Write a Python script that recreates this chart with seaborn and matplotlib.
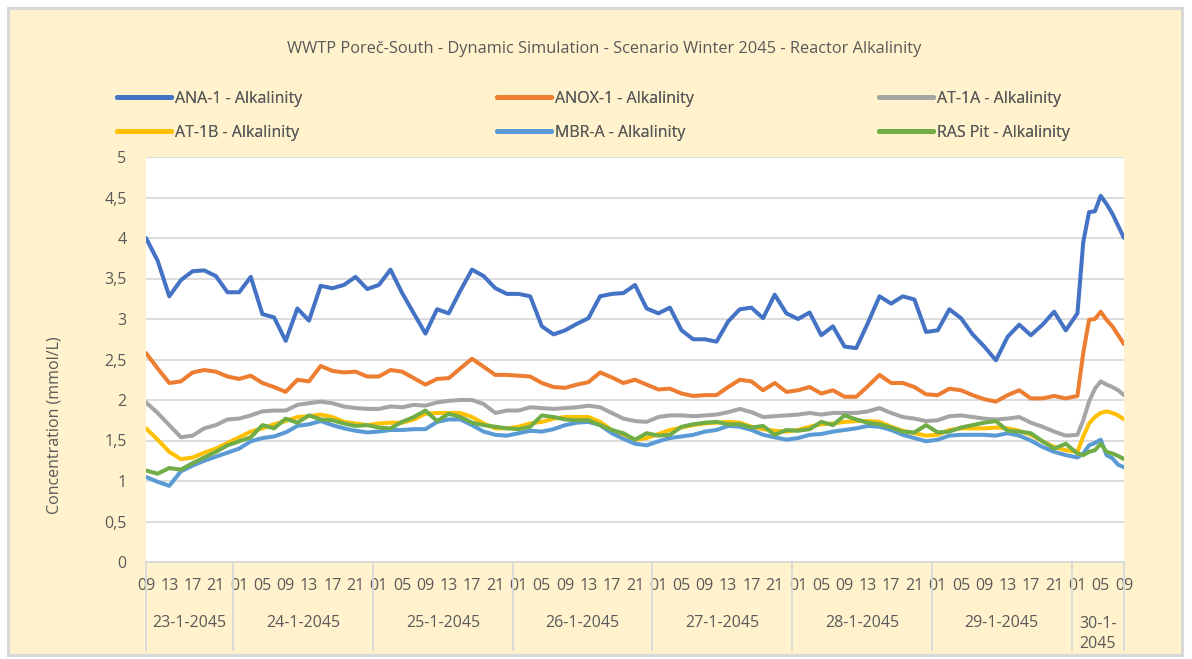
import matplotlib
matplotlib.use("Agg")
import matplotlib.pyplot as plt
from matplotlib.patches import Rectangle
from matplotlib.ticker import FuncFormatter
import seaborn as sns
import pandas as pd

# ---------------- DATA ----------------
# hours since 23-1-2045 09:00 (2-hourly, hourly over the last morning)
hours = list(range(0, 160, 2)) + list(range(160, 169))
start_clock = 9

day_labels = ["23-1-2045", "24-1-2045", "25-1-2045", "26-1-2045",
              "27-1-2045", "28-1-2045", "29-1-2045", "30-1-2045"]

ana_1 = [4.00, 3.72, 3.28, 3.48, 3.59, 3.60, 3.53, 3.33, 3.33, 3.52,
         3.06, 3.02, 2.73, 3.13, 2.98, 3.41, 3.38, 3.42, 3.52, 3.37,
         3.42, 3.61, 3.32, 3.07, 2.82, 3.12, 3.07, 3.35, 3.61, 3.53,
         3.38, 3.31, 3.31, 3.28, 2.91, 2.81, 2.86, 2.94, 3.01, 3.28,
         3.31, 3.32, 3.42, 3.13, 3.07, 3.14, 2.86, 2.75, 2.75, 2.72,
         2.97, 3.12, 3.14, 3.01, 3.30, 3.07, 3.00, 3.08, 2.80, 2.91,
         2.66, 2.64, 2.95, 3.28, 3.19, 3.28, 3.24, 2.84, 2.86, 3.12,
         3.01, 2.81, 2.66, 2.49, 2.78, 2.93, 2.80, 2.93, 3.09, 2.86,
         3.07, 3.95, 4.32, 4.33, 4.52, 4.42, 4.30, 4.15, 4.00]

anox_1 = [2.58, 2.39, 2.21, 2.23, 2.34, 2.37, 2.35, 2.29, 2.26, 2.30,
          2.21, 2.16, 2.10, 2.25, 2.23, 2.42, 2.36, 2.34, 2.35, 2.29,
          2.29, 2.37, 2.35, 2.27, 2.19, 2.26, 2.27, 2.39, 2.51, 2.41,
          2.31, 2.31, 2.30, 2.29, 2.21, 2.16, 2.15, 2.19, 2.22, 2.34,
          2.28, 2.21, 2.25, 2.19, 2.13, 2.14, 2.08, 2.05, 2.06, 2.06,
          2.16, 2.25, 2.23, 2.12, 2.21, 2.10, 2.12, 2.16, 2.08, 2.12,
          2.04, 2.04, 2.17, 2.31, 2.21, 2.21, 2.16, 2.07, 2.06, 2.14,
          2.12, 2.06, 2.01, 1.98, 2.06, 2.12, 2.02, 2.02, 2.05, 2.02,
          2.05, 2.58, 2.99, 3.00, 3.09, 2.99, 2.91, 2.80, 2.69]

at_1a = [1.97, 1.84, 1.69, 1.54, 1.56, 1.65, 1.69, 1.76, 1.77, 1.81,
         1.86, 1.87, 1.87, 1.94, 1.96, 1.98, 1.96, 1.92, 1.90, 1.89,
         1.89, 1.92, 1.91, 1.94, 1.93, 1.97, 1.99, 2.00, 2.00, 1.95,
         1.84, 1.87, 1.87, 1.91, 1.90, 1.89, 1.90, 1.91, 1.93, 1.91,
         1.84, 1.77, 1.74, 1.73, 1.79, 1.81, 1.81, 1.80, 1.81, 1.82,
         1.85, 1.89, 1.85, 1.79, 1.80, 1.81, 1.82, 1.84, 1.82, 1.84,
         1.84, 1.84, 1.86, 1.90, 1.84, 1.79, 1.77, 1.74, 1.75, 1.80,
         1.81, 1.79, 1.77, 1.76, 1.77, 1.79, 1.72, 1.67, 1.61, 1.56,
         1.57, 1.75, 1.98, 2.14, 2.23, 2.19, 2.16, 2.12, 2.06]

at_1b = [1.65, 1.51, 1.36, 1.27, 1.29, 1.35, 1.40, 1.47, 1.54, 1.61,
         1.65, 1.70, 1.74, 1.79, 1.80, 1.82, 1.79, 1.73, 1.71, 1.69,
         1.71, 1.72, 1.72, 1.76, 1.83, 1.84, 1.84, 1.84, 1.79, 1.71,
         1.65, 1.65, 1.67, 1.71, 1.73, 1.77, 1.79, 1.79, 1.79, 1.73,
         1.63, 1.57, 1.51, 1.53, 1.58, 1.63, 1.66, 1.69, 1.71, 1.72,
         1.73, 1.72, 1.67, 1.64, 1.62, 1.61, 1.63, 1.67, 1.70, 1.71,
         1.73, 1.74, 1.74, 1.73, 1.67, 1.62, 1.59, 1.56, 1.57, 1.63,
         1.65, 1.65, 1.65, 1.66, 1.65, 1.62, 1.57, 1.49, 1.42, 1.38,
         1.36, 1.55, 1.71, 1.79, 1.84, 1.86, 1.84, 1.81, 1.76]

mbr_a = [1.05, 0.99, 0.94, 1.12, 1.19, 1.25, 1.30, 1.35, 1.40, 1.49,
         1.53, 1.55, 1.60, 1.68, 1.70, 1.74, 1.69, 1.65, 1.62, 1.60,
         1.61, 1.63, 1.63, 1.64, 1.64, 1.73, 1.76, 1.76, 1.69, 1.61,
         1.57, 1.56, 1.59, 1.62, 1.61, 1.64, 1.69, 1.72, 1.73, 1.69,
         1.59, 1.52, 1.46, 1.44, 1.49, 1.53, 1.55, 1.57, 1.61, 1.63,
         1.68, 1.67, 1.63, 1.57, 1.54, 1.51, 1.53, 1.57, 1.58, 1.61,
         1.63, 1.65, 1.68, 1.67, 1.63, 1.57, 1.53, 1.49, 1.51, 1.56,
         1.57, 1.57, 1.57, 1.56, 1.59, 1.56, 1.50, 1.42, 1.36, 1.32,
         1.29, 1.34, 1.44, 1.47, 1.51, 1.32, 1.28, 1.20, 1.17]

ras_pit = [1.13, 1.09, 1.16, 1.14, 1.22, 1.29, 1.36, 1.44, 1.49, 1.54,
           1.69, 1.65, 1.77, 1.72, 1.81, 1.76, 1.75, 1.71, 1.68, 1.69,
           1.66, 1.65, 1.73, 1.79, 1.87, 1.74, 1.83, 1.79, 1.72, 1.69,
           1.67, 1.65, 1.64, 1.67, 1.81, 1.79, 1.76, 1.75, 1.75, 1.69,
           1.63, 1.59, 1.51, 1.59, 1.56, 1.57, 1.67, 1.70, 1.72, 1.73,
           1.70, 1.70, 1.66, 1.68, 1.57, 1.63, 1.62, 1.64, 1.73, 1.69,
           1.81, 1.76, 1.72, 1.70, 1.66, 1.61, 1.60, 1.69, 1.60, 1.61,
           1.66, 1.69, 1.72, 1.74, 1.62, 1.61, 1.59, 1.49, 1.40, 1.46,
           1.34, 1.32, 1.36, 1.38, 1.46, 1.36, 1.34, 1.31, 1.27]

series_names = ["ANA-1 - Alkalinity", "ANOX-1 - Alkalinity", "AT-1A - Alkalinity",
                "AT-1B - Alkalinity", "MBR-A - Alkalinity", "RAS Pit - Alkalinity"]
series_values = [ana_1, anox_1, at_1a, at_1b, mbr_a, ras_pit]
series_colors = ["#4472C4", "#ED7D31", "#A5A5A5", "#FFC000", "#5B9BD5", "#70AD47"]

title = "WWTP Poreč-South - Dynamic Simulation - Scenario Winter 2045 - Reactor Alkalinity"
y_label = "Concentration (mmol/L)"

# ---------------- LONG TABLE ----------------
frames = []
for name, vals in zip(series_names, series_values):
    frames.append(pd.DataFrame({"hour": hours, "value": vals, "series": name}))
df = pd.concat(frames, ignore_index=True)

# ---------------- STYLE ----------------
sns.set_theme(style="white")
plt.rcParams["font.family"] = ["Open Sans", "DejaVu Sans"]
text_color = "#595959"
grid_color = "#D9D9D9"
fs = 11.5

W, H = 1192, 659
fig = plt.figure(figsize=(W / 100, H / 100), dpi=100)
fig.patch.set_facecolor("white")

# chart area (cream with grey border)
fig.add_artist(Rectangle((8 / W, 4 / H), 1174 / W, 647 / H, transform=fig.transFigure,
                         facecolor="#FFF2CC", edgecolor=grid_color, linewidth=2.2, zorder=-1))

ax = fig.add_axes([146 / W, (H - 562) / H, 978 / W, 405 / H])
ax.set_facecolor("white")

# ---------------- LINES ----------------
sns.lineplot(data=df, x="hour", y="value", hue="series", hue_order=series_names,
             palette=dict(zip(series_names, series_colors)), linewidth=2.9,
             errorbar=None, legend=False, ax=ax,
             solid_joinstyle="round", solid_capstyle="round")

ax.set_xlim(min(hours), max(hours))
ax.set_ylim(0, 5)
ax.set_yticks([i * 0.5 for i in range(11)])
ax.yaxis.set_major_formatter(FuncFormatter(lambda v, p: f"{v:g}".replace(".", ",")))
ax.grid(axis="y", color=grid_color, linewidth=1.3)
ax.set_axisbelow(True)
for side in ["top", "left", "right"]:
    ax.spines[side].set_visible(False)
ax.spines["bottom"].set_color(grid_color)
ax.spines["bottom"].set_linewidth(1.3)
ax.set_xlabel("")
ax.set_ylabel("")

# hour-of-day ticks every 4 hours
tick_hours = list(range(min(hours), max(hours) + 1, 4))
ax.set_xticks(tick_hours)
ax.set_xticklabels([f"{(start_clock + h) % 24:02d}" for h in tick_hours])
ax.tick_params(axis="x", length=0, pad=11.5, labelsize=fs, labelcolor=text_color)
ax.tick_params(axis="y", length=0, pad=14, labelsize=fs, labelcolor=text_color)

# ---------------- DATE GROUPS ----------------
trans = ax.get_xaxis_transform()
bottom = -(651 - 562) / 405
first_midnight = 24 - start_clock
bounds = [min(hours)] + list(range(first_midnight, max(hours), 24)) + [max(hours)]
ax.vlines(bounds, bottom, 0, transform=trans, colors=grid_color, linewidth=1.3, clip_on=False)
for lab, s, e in zip(day_labels, bounds[:-1], bounds[1:]):
    if e - s < 12:
        lab = lab.rsplit("-", 1)[0] + "-\n2045"
        ax.text((s + e) / 2, -(634 - 562) / 405, lab, transform=trans, ha="center",
                va="center", fontsize=fs, color=text_color, linespacing=1.25)
    else:
        ax.text((s + e) / 2, -(623 - 562) / 405, lab, transform=trans, ha="center",
                va="center", fontsize=fs, color=text_color)

# ---------------- TEXT ----------------
fig.text(604 / W, 1 - 49 / H, title, ha="center", va="center", fontsize=11.8, color=text_color)
fig.text(55 / W, 1 - 425 / H, y_label, rotation=90, ha="center", va="center",
         fontsize=fs, color=text_color)

# ---------------- LEGEND ----------------
handles = ax.get_lines()[:len(series_names)]
col_x = [117, 497, 879]
for c, x in enumerate(col_x):
    idx = [c, c + 3]
    leg = fig.legend([handles[i] for i in idx], [series_names[i] for i in idx],
                     loc="upper left", bbox_to_anchor=(x / W, 1 - 91 / H), frameon=False,
                     fontsize=fs, handlelength=3.4, handletextpad=0.25, borderpad=0,
                     borderaxespad=0, labelspacing=1.1, labelcolor=text_color)
    for ln in leg.get_lines():
        ln.set_linewidth(3.6)
    fig.add_artist(leg)

fig.savefig("out.png", dpi=100, facecolor=fig.get_facecolor())
